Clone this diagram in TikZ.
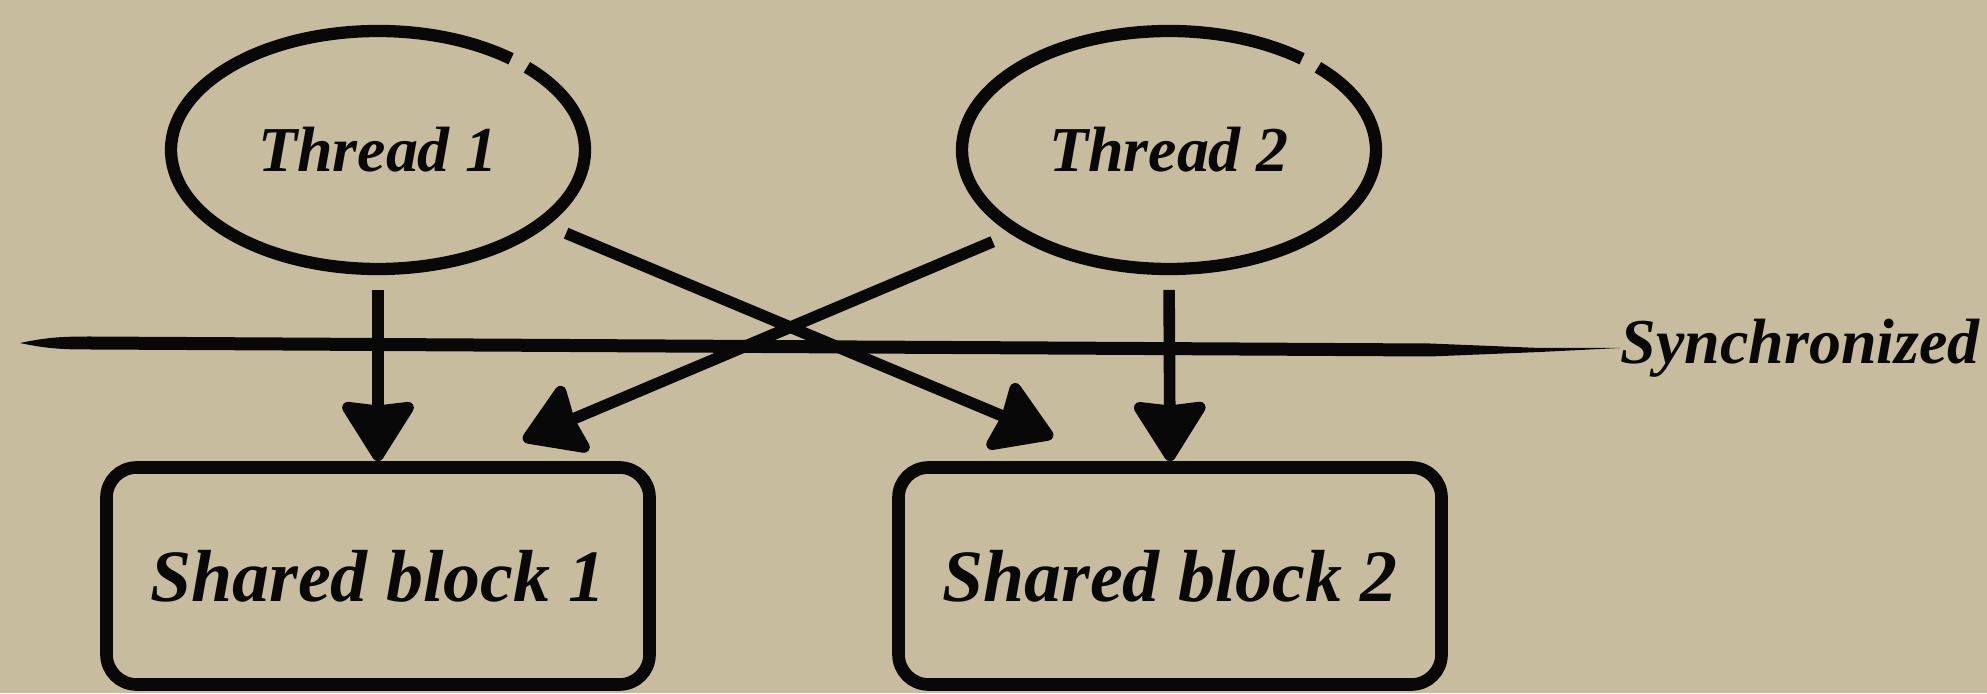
\documentclass[tikz,border=0pt]{standalone}
\usepackage{fontspec}
\setmainfont{Liberation Serif}
\usepackage{tikz}
\usetikzlibrary{shapes,arrows.meta,positioning,calc}
\definecolor{slidePaper}{HTML}{C7BD9E}
\definecolor{inkBlack}{HTML}{080808}
\tikzset{
    inkLabel/.style={
        font=\bfseries\itshape\fontsize{18.2pt}{21pt}\selectfont,
        text=inkBlack
    },
    % Node shapes
    thread/.style={
        ellipse,
        inkLabel,
        line width=3.4pt,
        minimum width=4.14cm,
        minimum height=2.38cm,
        inner sep=0pt
    },
    block/.style={
        rectangle,
        draw=inkBlack,
        line width=3.6pt,
        rounded corners=0.3cm,
        minimum width=5.43cm,
        minimum height=2.17cm,
        font=\bfseries\itshape\fontsize{21pt}{24pt}\selectfont,
        text=inkBlack
    },
    % Strokes
    brush/.style={draw=inkBlack, line width=3.5pt},
    arr/.style={-{Stealth[length=6.5mm, width=8mm, inset=0.4mm, round, fill=inkBlack]}, line width=3.3pt, color=inkBlack}
}

\begin{document}
\begin{tikzpicture}

% Paper
\useasboundingbox (0,0) rectangle (19.87,6.93);
\fill[slidePaper] (0,0) rectangle (19.87,6.93);

% --- Row 1: Threads ---
\foreach \i/\xpos in {1/3.78, 2/11.69}{
    \node[thread] (t\i) at (\xpos, 5.43) {Thread \i};
    \draw[brush] (t\i.center) ++(50:2.07cm and 1.19cm)
        arc[start angle=50, end angle=404, x radius=2.07cm, y radius=1.19cm];
}

% --- Synchronized line ---
\node[inkLabel, anchor=west, inner sep=0pt] (sync) at (16.20, 3.45) {Synchronized};
\coordinate (syncstart) at (0.20, 3.50);
\fill[inkBlack] (syncstart) to[out=12, in=180] (0.9, 3.565) -- (14.3, 3.495)
    -- (15.4, 3.45) -- (sync.west) -- (15.4, 3.41) -- (14.3, 3.365)
    -- (0.9, 3.435) to[out=180, in=-12] cycle;

% --- Row 2: Shared blocks ---
\foreach \i/\xpos in {1/3.78, 2/11.70}{
    \node[block] (b\i) at (\xpos, 1.17) {Shared block \i};
}

% Straight arrows
\draw[arr, shorten <=1.5mm] (t1.south) -- (b1.north);
\draw[arr, shorten <=1.5mm] (t2.south) -- (b2.north);

% Crossing arrows
\draw[arr, shorten <=2mm] (t1.-24.5) -- ([xshift=-1.17cm, yshift=0.24cm]b2.north);
\draw[arr, shorten <=2mm] (t2.208.8) -- ([xshift=1.45cm, yshift=0.21cm]b1.north);

\end{tikzpicture}
\end{document}
